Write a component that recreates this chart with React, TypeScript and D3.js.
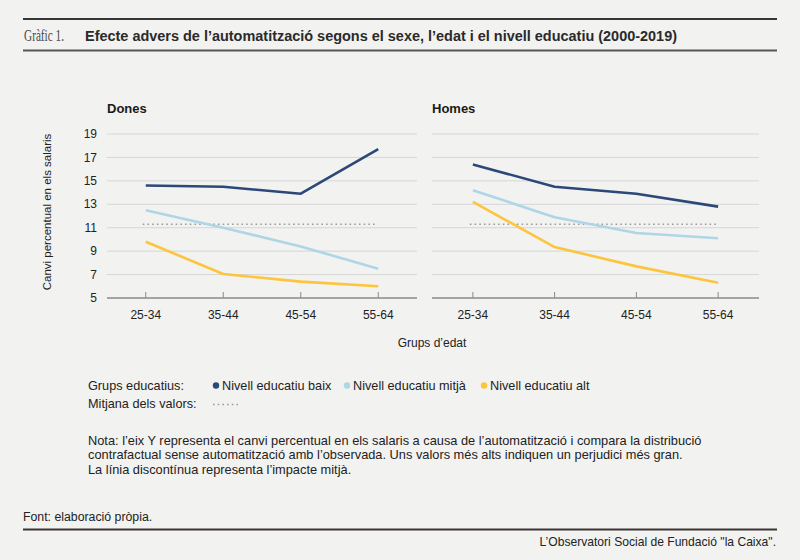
import React, { useRef, useEffect } from 'react'
import * as d3 from 'd3'

// age groups on the x axis
const ageGroups = ['25-34', '35-44', '45-54', '55-64']
const yTicks = [5, 7, 9, 11, 13, 15, 17, 19]

// women
const donesBaix = [14.6, 14.5, 13.9, 17.7]
const donesMitja = [12.5, 11.0, 9.4, 7.5]
const donesAlt = [9.8, 7.05, 6.4, 6.0]
const donesMitjana = 11.3

// men
const homesBaix = [16.4, 14.5, 13.9, 12.8]
const homesMitja = [14.2, 11.9, 10.55, 10.1]
const homesAlt = [13.2, 9.35, 7.7, 6.3]
const homesMitjana = 11.3

const seriesNames = ['Nivell educatiu baix', 'Nivell educatiu mitjà', 'Nivell educatiu alt']
const colors = ['#2b4878', '#aed6e4', '#fcc53c']

const W = 800
const H = 560
const FONT = '"Liberation Sans", Arial, sans-serif'

const App: React.FC = () => {
  const svgRef = useRef<SVGSVGElement | null>(null)

  useEffect(() => {
    if (!svgRef.current) return
    const svg = d3.select(svgRef.current)
    svg.selectAll('*').remove()

    svg.append('rect').attr('width', W).attr('height', H).attr('fill', '#f2f2f1')

    // header rules + title
    svg.append('line').attr('x1', 23).attr('x2', 777).attr('y1', 19).attr('y2', 19)
      .attr('stroke', '#3a3535').attr('stroke-width', 2)
    svg.append('line').attr('x1', 23).attr('x2', 777).attr('y1', 50.5).attr('y2', 50.5)
      .attr('stroke', '#5a5555').attr('stroke-width', 2)
    const title = svg.append('text').attr('x', 24).attr('y', 41)
      .style('font-size', '14px').attr('fill', '#2a2a2a')
    title.append('tspan').style('font-family', '"Liberation Serif", "DejaVu Serif", serif')
      .style('font-size', '17px').attr('fill', '#4a4a4a')
      .attr('textLength', 40).attr('lengthAdjust', 'spacingAndGlyphs')
      .text('Gràfic 1.')
    title.append('tspan').attr('x', 85).style('font-family', FONT).style('font-weight', 'bold')
      .attr('textLength', 592).attr('lengthAdjust', 'spacingAndGlyphs')
      .text('Efecte advers de l’automatització segons el sexe, l’edat i el nivell educatiu (2000-2019)')

    const y = d3.scaleLinear().domain([5, 19]).range([298, 134])

    const panels = [
      { name: 'Dones', x0: 107, x1: 417, series: [donesBaix, donesMitja, donesAlt], mean: donesMitjana, yLabels: true },
      { name: 'Homes', x0: 432, x1: 759, series: [homesBaix, homesMitja, homesAlt], mean: homesMitjana, yLabels: false },
    ]

    panels.forEach(p => {
      const x = d3.scalePoint<string>().domain(ageGroups).range([p.x0, p.x1]).padding(0.5)
      const g = svg.append('g')

      // gridlines
      g.selectAll('line.grid').data(yTicks.filter(t => t !== 5)).join('line')
        .attr('x1', p.x0).attr('x2', p.x1)
        .attr('y1', d => y(d)).attr('y2', d => y(d))
        .attr('stroke', '#d6d6d6').attr('stroke-width', 1)

      if (p.yLabels) {
        g.selectAll('text.ytick').data(yTicks).join('text')
          .attr('x', 97).attr('y', d => y(d)).attr('dy', '0.35em')
          .attr('text-anchor', 'end')
          .style('font-family', FONT).style('font-size', '12px').attr('fill', '#222')
          .text(d => d)
      }

      // x axis line + inward ticks
      g.append('line').attr('x1', p.x0).attr('x2', p.x1).attr('y1', y(5)).attr('y2', y(5))
        .attr('stroke', '#8a8a8a').attr('stroke-width', 1.3)
      g.selectAll('line.xtick').data(ageGroups).join('line')
        .attr('x1', d => x(d)!).attr('x2', d => x(d)!)
        .attr('y1', y(5)).attr('y2', y(5) - 6)
        .attr('stroke', '#8a8a8a')
      g.selectAll('text.xtick').data(ageGroups).join('text')
        .attr('x', d => x(d)!).attr('y', 319)
        .attr('text-anchor', 'middle')
        .style('font-family', FONT).style('font-size', '12px').attr('fill', '#222')
        .text(d => d)

      // panel title
      g.append('text').attr('x', p.x0).attr('y', 113)
        .style('font-family', FONT).style('font-size', '13px').style('font-weight', 'bold')
        .attr('fill', '#1a1a1a').text(p.name)

      // mean dotted line
      g.append('line')
        .attr('x1', x(ageGroups[0])! - 3).attr('x2', x(ageGroups[ageGroups.length - 1])! - 2)
        .attr('y1', y(p.mean)).attr('y2', y(p.mean))
        .attr('stroke', '#9c9c9c').attr('stroke-width', 1.6)
        .attr('stroke-dasharray', '1.6 3.1')

      const line = d3.line<number>()
        .x((_, i) => x(ageGroups[i])!)
        .y(d => y(d))

      p.series.forEach((s, i) => {
        g.append('path').datum(s)
          .attr('d', line)
          .attr('fill', 'none')
          .attr('stroke', colors[i])
          .attr('stroke-width', 2.6)
          .attr('stroke-linejoin', 'round')
      })
    })

    // axis titles
    svg.append('text')
      .attr('transform', 'translate(51,212) rotate(-90)')
      .attr('text-anchor', 'middle')
      .style('font-family', FONT).style('font-size', '11.5px').attr('fill', '#222')
      .text('Canvi percentual en els salaris')
    svg.append('text').attr('x', 432).attr('y', 347).attr('text-anchor', 'middle')
      .style('font-family', FONT).style('font-size', '12px').attr('fill', '#222')
      .text('Grups d’edat')

    // legend
    const txt = (xx: number, yy: number, s: string, size = 12, anchor = 'start') =>
      svg.append('text').attr('x', xx).attr('y', yy).attr('text-anchor', anchor)
        .style('font-family', FONT).style('font-size', `${size}px`).attr('fill', '#222').text(s)

    txt(88, 390, 'Grups educatius:', 12.7)
    txt(88, 408, 'Mitjana dels valors:', 12.7)
    const legX = [216, 347, 484]
    seriesNames.forEach((n, i) => {
      svg.append('circle').attr('cx', legX[i]).attr('cy', 385.5).attr('r', 3.2).attr('fill', colors[i])
      txt(legX[i] + 6, 390, n, 12.7)
    })
    svg.append('line').attr('x1', 213).attr('x2', 238).attr('y1', 404.5).attr('y2', 404.5)
      .attr('stroke', '#9c9c9c').attr('stroke-width', 1.6).attr('stroke-dasharray', '1.6 3.1')

    // note
    txt(88, 444.5, 'Nota: l’eix Y representa el canvi percentual en els salaris a causa de l’automatització i compara la distribució', 12.8)
    txt(88, 459, 'contrafactual sense automatització amb l’observada. Uns valors més alts indiquen un perjudici més gran.', 12.8)
    txt(88, 473.5, 'La línia discontínua representa l’impacte mitjà.', 12.8)

    txt(23, 520.5, 'Font: elaboració pròpia.', 12.3)
    svg.append('line').attr('x1', 23).attr('x2', 777).attr('y1', 529.5).attr('y2', 529.5)
      .attr('stroke', '#3a3535').attr('stroke-width', 2)
    txt(776, 546, 'L’Observatori Social de Fundació "la Caixa".', 12.1, 'end')
  }, [])

  return (
    <div style={{ position: 'absolute', left: 0, top: 0 }}>
      <svg ref={svgRef} width={W} height={H} style={{ display: 'block' }} />
    </div>
  )
}

export default App
